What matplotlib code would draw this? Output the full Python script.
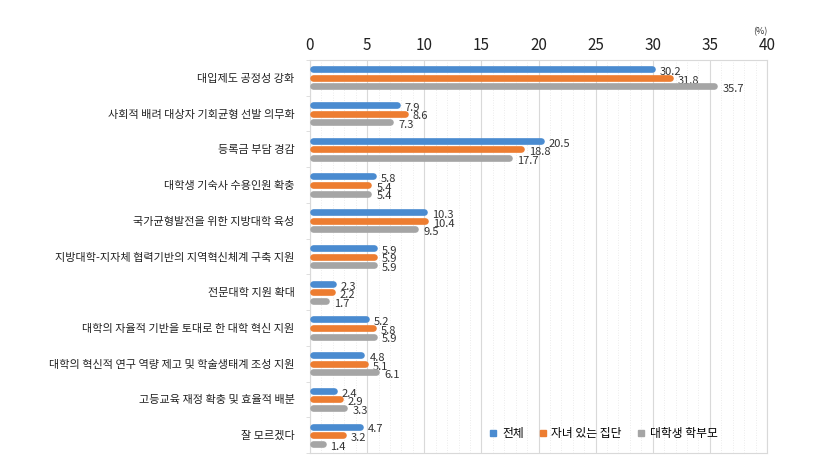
import numpy as np
import matplotlib.pyplot as plt
from matplotlib.ticker import MultipleLocator

plt.rcParams['font.family'] = ['Noto Sans CJK KR', 'DejaVu Sans']

categories = [
    '대입제도 공정성 강화',
    '사회적 배려 대상자 기회균형 선발 의무화',
    '등록금 부담 경감',
    '대학생 기숙사 수용인원 확충',
    '국가균형발전을 위한 지방대학 육성',
    '지방대학-지자체 협력기반의 지역혁신체계 구축 지원',
    '전문대학 지원 확대',
    '대학의 자율적 기반을 토대로 한 대학 혁신 지원',
    '대학의 혁신적 연구 역량 제고 및 학술생태계 조성 지원',
    '고등교육 재정 확충 및 효율적 배분',
    '잘 모르겠다',
]
total = [30.2, 7.9, 20.5, 5.8, 10.3, 5.9, 2.3, 5.2, 4.8, 2.4, 4.7]
with_children = [31.8, 8.6, 18.8, 5.4, 10.4, 5.9, 2.2, 5.8, 5.1, 2.9, 3.2]
parents = [35.7, 7.3, 17.7, 5.4, 9.5, 5.9, 1.7, 5.9, 6.1, 3.3, 1.4]
series_names = ['전체', '자녀 있는 집단', '대학생 학부모']
colors = ['#4a8bd0', '#ed7d31', '#a5a5a5']

fig = plt.figure(figsize=(8.16, 4.72), dpi=100)
ax = fig.add_axes([310 / 816, 1 - 453 / 472, 457 / 816, 393 / 472])

y = np.arange(len(categories))
offsets = [-0.24, 0.0, 0.24]
lw = 4.8
for vals, off, c, name in zip([total, with_children, parents], offsets, colors, series_names):
    ys = y + off
    ax.hlines(ys, 0.3, np.array(vals) - 0.3, colors=c, linewidth=lw,
              capstyle='round', zorder=3)
    ax.plot([], [], 's', color=c, markersize=4.5, label=name)
    for v, yy in zip(vals, ys):
        ax.text(v + 0.4, yy + 0.08, f'{v:.1f}', va='center', ha='left',
                fontsize=8, color='#333333')

ax.set_xlim(0, 40)
ax.set_ylim(len(categories) - 0.5, -0.5)
ax.xaxis.set_major_locator(MultipleLocator(5))
ax.xaxis.set_minor_locator(MultipleLocator(1))
ax.xaxis.tick_top()
ax.tick_params(axis='x', which='both', length=0, labelsize=11, pad=4, colors='#222222')
ax.grid(axis='x', which='major', color='#d9d9d9', linewidth=0.8, zorder=0)
ax.grid(axis='x', which='minor', color='#e6e6e6', linewidth=0.6,
        linestyle=(0, (1, 2)), zorder=0)

ax.set_yticks(y)
ax.set_yticklabels(categories, fontsize=8, color='#222222')
ax.set_yticks(np.arange(len(categories) + 1) - 0.5, minor=True)
ax.tick_params(axis='y', which='major', length=0, pad=11)
ax.tick_params(axis='y', which='minor', length=3, color='#d9d9d9')
for s in ax.spines.values():
    s.set_color('#d9d9d9')

ax.text(1.0, 1.06, '(%)', transform=ax.transAxes, ha='right', va='bottom',
        fontsize=6.5, color='#333333')

ax.legend(loc='lower right', bbox_to_anchor=(0.915, 0.005), ncol=3, frameon=False,
          fontsize=8.5, handletextpad=0.35, columnspacing=1.2, handlelength=0.8)

fig.savefig('out.png', dpi=100)
